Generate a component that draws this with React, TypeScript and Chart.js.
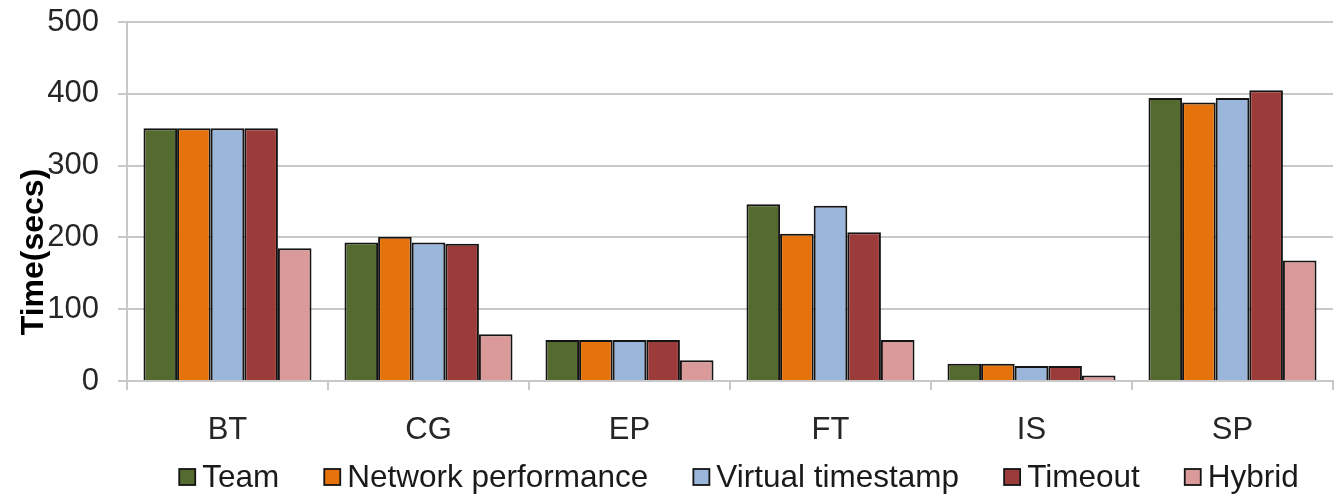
import React, { useEffect, useRef } from 'react';
import { Chart, registerables } from 'chart.js';

Chart.register(...registerables);

const categories = ['BT', 'CG', 'EP', 'FT', 'IS', 'SP'];
const seriesNames = ['Team', 'Network performance', 'Virtual timestamp', 'Timeout', 'Hybrid'];
const team = [352, 193, 57, 246, 24, 394];
const networkPerformance = [352, 201, 57, 205, 24, 388];
const virtualTimestamp = [352, 193, 57, 244, 21, 394];
const timeout = [352, 191, 57, 207, 21, 405];
const hybrid = [185, 65, 29, 57, 7.5, 168];
const seriesColors = ['#556A2F', '#E5720B', '#9AB6DA', '#9B3C3B', '#DA9A99'];
const yTickValues = [0, 100, 200, 300, 400, 500];
const yTitle = 'Time(secs)';

const FONT = '"Liberation Sans", Arial, sans-serif';
const GRID = '#c8c8c8';
const BAR_BORDER = '#141414';

export default function App() {
  const ref = useRef<HTMLCanvasElement>(null);

  useEffect(() => {
    document.body.style.margin = '0';
    const canvas = ref.current;
    if (!canvas) return;

    const titlePlugin = {
      id: 'yTitleOverlay',
      afterDraw(chart: any) {
        const { ctx, chartArea } = chart;
        ctx.save();
        ctx.translate(chartArea.left - 93, chartArea.bottom - 129);
        ctx.rotate(-Math.PI / 2);
        ctx.font = `bold 32px ${FONT}`;
        ctx.fillStyle = '#000';
        ctx.textAlign = 'center';
        ctx.textBaseline = 'middle';
        ctx.fillText(yTitle, 0, 0);
        ctx.restore();
      },
    };

    const legendPlugin = {
      id: 'bottomLegend',
      afterDraw(chart: any) {
        const { ctx, chartArea } = chart;
        const box = 16;
        const gap = 7;
        const spacing = 45;
        ctx.save();
        ctx.font = `31.5px ${FONT}`;
        const items = chart.data.datasets.map((ds: any) => ({
          text: ds.label as string,
          color: ds.backgroundColor as string,
          w: ctx.measureText(ds.label).width,
        }));
        const total =
          items.reduce((s: number, it: any) => s + box + gap + it.w, 0) + spacing * (items.length - 1);
        let x = (chartArea.left + chartArea.right) / 2 + 9 - total / 2;
        const base = chart.height - 10;
        for (const it of items) {
          ctx.fillStyle = it.color;
          ctx.fillRect(x, base - 18, box, box);
          ctx.strokeStyle = BAR_BORDER;
          ctx.lineWidth = 1.8;
          ctx.strokeRect(x, base - 18, box, box);
          ctx.fillStyle = '#1a1a1a';
          ctx.textBaseline = 'alphabetic';
          ctx.textAlign = 'left';
          ctx.fillText(it.text, x + box + gap, base);
          x += box + gap + it.w + spacing;
        }
        ctx.restore();
      },
    };

    const values = [team, networkPerformance, virtualTimestamp, timeout, hybrid];

    const chart = new Chart(canvas, {
      type: 'bar',
      data: {
        labels: categories,
        datasets: values.map((d, i) => ({
          label: seriesNames[i],
          data: d,
          backgroundColor: seriesColors[i],
          borderColor: BAR_BORDER,
          borderWidth: 2,
          categoryPercentage: 0.836,
          barPercentage: 1,
        })),
      },
      options: {
        responsive: false,
        animation: false,
        devicePixelRatio: 1,
        layout: { padding: { top: 0, right: 1, left: 0, bottom: 50 } },
        plugins: {
          legend: { display: false },
          tooltip: { enabled: false },
          title: { display: false },
        },
        scales: {
          x: {
            afterFit: (s: any) => {
              s.height = 66;
              s.paddingTop = 0;
              s.paddingBottom = 0;
            },
            grid: {
              offset: true,
              drawOnChartArea: true,
              color: (ctx: any) => (ctx.index === categories.length ? GRID : 'rgba(0,0,0,0)'),
              tickColor: GRID,
              tickLength: 9,
              lineWidth: 2,
            },
            border: { color: GRID, width: 2 },
            ticks: {
              color: '#262626',
              padding: 22,
              font: { family: FONT, size: 31 },
            },
          },
          y: {
            min: 0,
            max: 500,
            afterFit: (s: any) => {
              s.width = 127;
              s.paddingTop = 22;
              s.paddingBottom = 0;
            },
            afterBuildTicks: (s: any) => {
              s.ticks = yTickValues.map((v) => ({ value: v }));
            },
            grid: {
              color: GRID,
              tickColor: GRID,
              tickLength: 9,
              lineWidth: 2,
            },
            border: { color: GRID, width: 2 },
            ticks: {
              color: '#262626',
              padding: 19,
              font: { family: FONT, size: 31 },
            },
          },
        },
      },
      plugins: [titlePlugin, legendPlugin],
    });

    return () => chart.destroy();
  }, []);

  return (
    <div style={{ width: 1334, height: 497 }}>
      <canvas ref={ref} width={1334} height={497} style={{ display: 'block' }} />
    </div>
  );
}
